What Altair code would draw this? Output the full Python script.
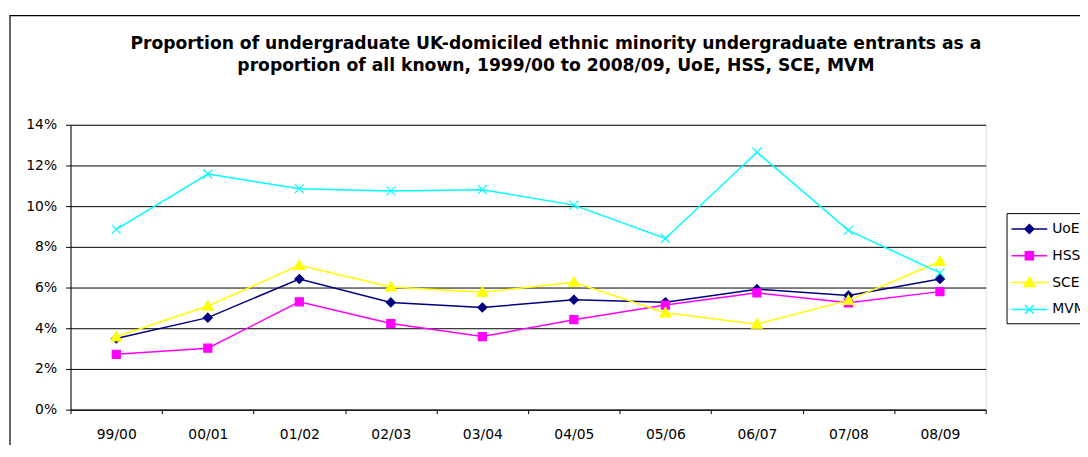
import altair as alt
import pandas as pd

seasons = ["99/00", "00/01", "01/02", "02/03", "03/04", "04/05", "05/06", "06/07", "07/08", "08/09"]
series_names = ["UoE", "HSS", "SCE", "MVM"]
uoe = [3.50, 4.52, 6.42, 5.27, 5.02, 5.40, 5.28, 5.92, 5.61, 6.42]
hss = [2.72, 3.02, 5.30, 4.23, 3.59, 4.42, 5.14, 5.74, 5.25, 5.80]
sce = [3.58, 5.09, 7.09, 6.03, 5.77, 6.26, 4.76, 4.20, 5.37, 7.28]
mvm = [8.86, 11.58, 10.86, 10.75, 10.81, 10.05, 8.41, 12.65, 8.81, 6.72]
colors = ["#000080", "#FF00FF", "#FFFF00", "#00FFFF"]
y_ticks = [0, 0.02, 0.04, 0.06, 0.08, 0.10, 0.12, 0.14]
title_lines = [
    "Proportion of undergraduate UK-domiciled ethnic minority undergraduate entrants as a",
    "proportion of all known, 1999/00 to 2008/09, UoE, HSS, SCE, MVM",
]

# marker paths (unit = 9 px at size 324)
marker_paths = [
    "M0,-0.5L0.5,0L0,0.5L-0.5,0Z",
    "M-0.45,-0.45H0.45V0.45H-0.45Z",
    "M0,-0.6L0.6,0.45H-0.6Z",
    "M-0.5,-0.5L0.5,0.5M-0.5,0.5L0.5,-0.5",
]
legend_paths = ["M-2,0H2" + p for p in marker_paths]

values = {"UoE": uoe, "HSS": hss, "SCE": sce, "MVM": mvm}
rows = []
for name in series_names:
    for s, v in zip(seasons, values[name]):
        rows.append({"season": s, "series": name, "value": v / 100.0})
df = pd.DataFrame(rows)

FONT = "DejaVu Sans"

x_enc = alt.X(
    "season:N",
    sort=seasons,
    scale=alt.Scale(type="band", paddingInner=0, paddingOuter=0),
    axis=alt.Axis(
        title=None, labelAngle=0, tickBand="extent", tickSize=4, labelPadding=14,
        labelFont=FONT, labelFontSize=14, labelColor="black", domainColor="black",
        tickColor="black", grid=False,
    ),
)
y_enc = alt.Y(
    "value:Q",
    scale=alt.Scale(domain=[0, 0.14], nice=False),
    axis=alt.Axis(
        title=None, values=y_ticks, format=".0%", tickSize=5, labelPadding=9,
        labelFont=FONT, labelFontSize=14, labelColor="black", domainColor="black",
        tickColor="black", grid=True, gridColor="black", gridWidth=1,
    ),
)

base = alt.Chart(df)

one = pd.DataFrame({"k": [0]})
frame = alt.Chart(one).mark_rect(filled=False, stroke="black", strokeWidth=1.2).encode(
    x=alt.value(-61), x2=alt.value(1100), y=alt.value(-110), y2=alt.value(400)
)
title1 = alt.Chart(one).mark_text(
    font=FONT, fontSize=17.3, fontWeight="bold", align="center", baseline="alphabetic", color="black"
).encode(x=alt.value(489), y=alt.value(-76), text=alt.value(title_lines[0]))
title2 = alt.Chart(one).mark_text(
    font=FONT, fontSize=17.3, fontWeight="bold", align="center", baseline="alphabetic", color="black"
).encode(x=alt.value(489), y=alt.value(-54), text=alt.value(title_lines[1]))

layers = [frame, title1, title2]
for name, col, path in zip(series_names, colors, marker_paths):
    sub = base.transform_filter(alt.datum.series == name)
    layers.append(sub.mark_line(strokeWidth=1.5, color=col).encode(x=x_enc, y=y_enc))
    layers.append(
        sub.mark_point(filled=True, opacity=1, size=324, shape=path, fill=col, stroke=col,
                       strokeWidth=1.2).encode(x=x_enc, y=y_enc)
    )

leg = alt.Legend(title=None, orient="none", legendX=943, legendY=89,
                 strokeColor="black", fillColor="white", padding=6,
                 rowPadding=9, labelFont=FONT, labelFontSize=14,
                 labelColor="black", symbolSize=324, symbolStrokeWidth=1.5,
                 symbolOffset=7, labelOffset=13)

# legend-only layer: its points sit far outside the y domain and are clipped away
legend_layer = base.mark_point(
    filled=True, opacity=1, size=324, strokeWidth=1.5, clip=True
).encode(
    x=x_enc,
    y=alt.datum(1.0),
    fill=alt.Fill("series:N", scale=alt.Scale(domain=series_names, range=colors), legend=leg),
    stroke=alt.Stroke("series:N", scale=alt.Scale(domain=series_names, range=colors), legend=leg),
    shape=alt.Shape("series:N", scale=alt.Scale(domain=series_names, range=legend_paths), legend=leg),
)
layers.append(legend_layer)

chart = alt.layer(*layers).properties(
    width=922, height=287,
    autosize=alt.AutoSizeParams(type="none"),
    padding={"left": 63, "top": 116, "right": 95, "bottom": 34},
).configure_view(stroke="#808080", strokeWidth=1).configure(background="white")

chart.save("out.html", embed_options={"renderer": "svg", "actions": False})
